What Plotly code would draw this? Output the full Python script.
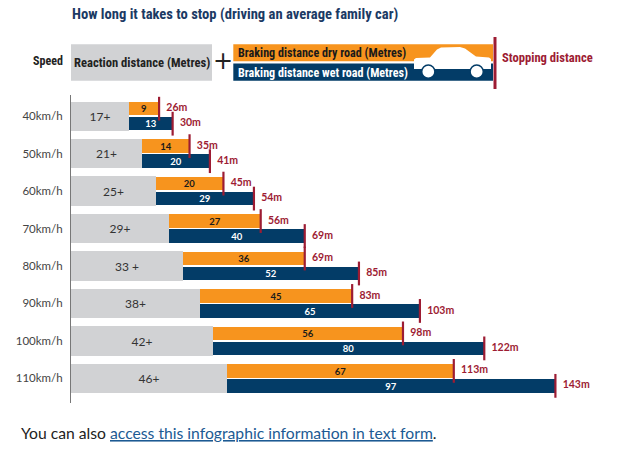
import plotly.graph_objects as go

# ---------------- data ----------------
speeds = ["40km/h", "50km/h", "60km/h", "70km/h", "80km/h", "90km/h", "100km/h", "110km/h"]
reaction = [17, 21, 25, 29, 33, 38, 42, 46]
reaction_labels = ["17+", "21+", "25+", "29+", "33 +", "38+", "42+", "46+"]
braking_dry = [9, 14, 20, 27, 36, 45, 56, 67]
braking_wet = [13, 20, 29, 40, 52, 65, 80, 97]
stopping_dry = [26, 35, 45, 56, 69, 83, 98, 113]
stopping_wet = [30, 41, 54, 69, 85, 103, 122, 143]

# ---------------- style ----------------
GRAY = "#d1d2d4"
ORANGE = "#f7941e"
NAVY = "#033c67"
RED = "#9d1c33"
TITLE = "#1b3a64"
NARROW = "Roboto Condensed, Liberation Sans Narrow, sans-serif"
SANS = "Lato, Open Sans, sans-serif"

W, H = 631, 451
ML, MR, MT, MB = 71, 18, 95, 48
PW, PH = W - ML - MR, H - MT - MB


def px(x):
    return (x - ML) / PW


def py(y):
    return (H - MB - y) / PH


rows = list(range(len(speeds)))
up = [r - 0.2 for r in rows]
dn = [r + 0.2 for r in rows]

fig = go.Figure()

fig.add_trace(go.Bar(
    orientation="h", y=rows, x=reaction, base=[0] * len(rows), width=0.78,
    marker=dict(color=GRAY, line=dict(width=0)),
    text=reaction_labels, textposition="inside", insidetextanchor="middle",
    textangle=0, constraintext="none",
    textfont=dict(family=SANS, size=12, color="#333333"),
    hoverinfo="skip", showlegend=False,
))
fig.add_trace(go.Bar(
    orientation="h", y=up, x=braking_dry, base=reaction, width=0.36,
    marker=dict(color=ORANGE, line=dict(width=0)),
    text=[f"<b>{v}</b>" for v in braking_dry], textposition="inside",
    insidetextanchor="middle", textangle=0, constraintext="none",
    textfont=dict(family=SANS, size=9.5, color="#1a1a1a"),
    hoverinfo="skip", showlegend=False,
))
fig.add_trace(go.Bar(
    orientation="h", y=dn, x=braking_wet, base=reaction, width=0.36,
    marker=dict(color=NAVY, line=dict(width=0)),
    text=[f"<b>{v}</b>" for v in braking_wet], textposition="inside",
    insidetextanchor="middle", textangle=0, constraintext="none",
    textfont=dict(family=SANS, size=9.5, color="#ffffff"),
    hoverinfo="skip", showlegend=False,
))
for ys, vals in ((up, stopping_dry), (dn, stopping_wet)):
    # stopping-distance tick marks
    fig.add_trace(go.Scatter(
        x=vals, y=ys, mode="markers",
        marker=dict(symbol="line-ns", size=17, color=RED,
                    line=dict(color=RED, width=2.2)),
        cliponaxis=False, hoverinfo="skip", showlegend=False,
    ))
    # stopping-distance labels
    fig.add_trace(go.Scatter(
        x=vals, y=ys, mode="markers+text",
        marker=dict(size=10, color="rgba(0,0,0,0)"),
        text=[f"<b>{v}m</b>" for v in vals], textposition="middle right",
        textfont=dict(family=SANS, size=10.5, color=RED),
        cliponaxis=False, hoverinfo="skip", showlegend=False,
    ))

shapes = []
ann = []

# header legend
shapes.append(dict(type="rect", xref="paper", yref="paper", x0=px(71), x1=px(212),
                   y0=py(80.7), y1=py(44.3), fillcolor=GRAY, line=dict(width=0)))
shapes.append(dict(type="rect", xref="paper", yref="paper", x0=px(233.3), x1=px(493),
                   y0=py(61.3), y1=py(44.3), fillcolor=ORANGE, line=dict(width=0)))
shapes.append(dict(type="rect", xref="paper", yref="paper", x0=px(233.3), x1=px(493),
                   y0=py(80.7), y1=py(63.5), fillcolor=NAVY, line=dict(width=0)))
# car silhouette
car_pts = [(414, 69), (414, 59.5), (416, 58), (430, 57.5), (437, 49.5), (441, 47.5),
           (460, 47), (465, 48.5), (476, 56.5), (489, 57.5), (491, 59), (491, 69)]
path = "M " + " L ".join(f"{px(x):.5f},{py(y):.5f}" for x, y in car_pts) + " Z"
shapes.append(dict(type="path", xref="paper", yref="paper", path=path,
                   fillcolor="#ffffff", line=dict(width=0)))
for cx in (428.3, 476.7):
    r = 6.6
    shapes.append(dict(type="circle", xref="paper", yref="paper",
                       x0=px(cx - r), x1=px(cx + r), y0=py(71.7 + r), y1=py(71.7 - r),
                       fillcolor="#ffffff", line=dict(color=NAVY, width=1.5)))
shapes.append(dict(type="line", xref="paper", yref="paper", x0=px(495), x1=px(495),
                   y0=py(89), y1=py(37), line=dict(color=RED, width=3)))


def add_text(text, x, y, size, color, family=NARROW, xanchor="left"):
    ann.append(dict(text=text, xref="paper", yref="paper", x=px(x), y=py(y),
                    xanchor=xanchor, yanchor="middle", showarrow=False,
                    font=dict(family=family, size=size, color=color)))


add_text("<b>How long it takes to stop (driving an average family car)</b>", 70, 14.5, 14.6, TITLE)
add_text("<b>Speed</b>", 65, 61.5, 12, "#222222", xanchor="right")
add_text("<b>Reaction distance (Metres)</b>", 141.5, 62.5, 12.6, "#222222", xanchor="center")
add_text("+", 222.5, 61.5, 24, "#222222", family="DejaVu Sans", xanchor="center")
add_text("<b>Braking distance dry road (Metres)</b>", 236, 53, 12.1, "#1a1a1a")
add_text("<b>Braking distance wet road (Metres)</b>", 236, 72.5, 12.1, "#ffffff")
add_text("<b>Stopping distance</b>", 499.5, 57, 12.6, RED)
add_text("You can also <a href='#' style='color:#1c5a93;text-decoration:underline'>"
         "access this infographic information in text form</a>.",
         19, 432.5, 15.7, "#222222", family=SANS)

fig.update_layout(
    width=W, height=H,
    margin=dict(l=ML, r=MR, t=MT, b=MB, pad=0),
    paper_bgcolor="#ffffff", plot_bgcolor="#ffffff",
    barmode="overlay", bargap=0,
    showlegend=False,
    xaxis=dict(range=[0, 160], visible=False, fixedrange=True),
    yaxis=dict(range=[7.658, -0.566], tickvals=rows, ticktext=speeds,
               showline=True, linecolor="#777777", linewidth=1,
               showgrid=False, zeroline=False, ticks="", ticklabelstandoff=5,
               tickfont=dict(family=SANS, size=11.5, color="#444444"), fixedrange=True),
    shapes=shapes, annotations=ann,
    font=dict(family=SANS),
)

fig.write_html("out.html", config={"displayModeBar": False},
               post_script="document.body.style.margin='0';document.body.style.padding='0';")
